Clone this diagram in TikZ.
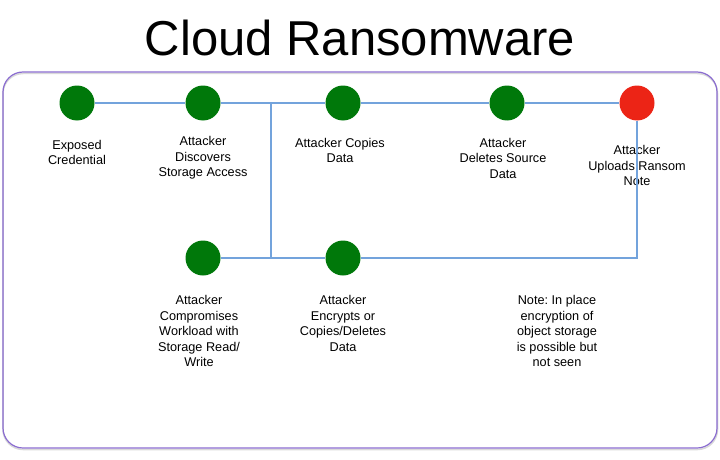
\documentclass[tikz,border=0pt]{standalone}
\usepackage{fontspec}
\setmainfont{Liberation Sans}
\frenchspacing
\definecolor{ngreen}{RGB}{0,120,10}
\definecolor{nred}{RGB}{236,36,22}
\definecolor{lblue}{RGB}{115,163,220}
\definecolor{fpurple}{RGB}{138,108,208}
\begin{document}
\begin{tikzpicture}[x=1pt,y=-1pt,
  dot/.style={circle,fill=ngreen,minimum size=35pt,inner sep=0pt},
  reddot/.style={dot,fill=nred},
  lbl/.style={align=center,inner sep=0pt,font=\fontsize{12.7}{15.5}\selectfont},
  link/.style={draw=lblue,line width=2pt}]
\useasboundingbox (0,0) rectangle (720,460);
\draw[gray!30,line width=1.5pt,rounded corners=20pt] (3,73.5) rectangle (717.5,449.5);
\draw[fpurple,line width=1.2pt,rounded corners=20pt] (3,72) rectangle (717,448);
\node[inner sep=0pt,font=\fontsize{49}{55}\selectfont] (title) at (360,38) {Cloud Ransomware};
% nodes
\node[dot] (exp) at (77,103) {};
\node[dot] (disc) at (203,103) {};
\node[dot] (copy) at (343,103) {};
\node[dot] (del) at (507,103) {};
\node[reddot] (ran) at (637,103) {};
\node[dot] (comp) at (203,258) {};
\node[dot] (enc) at (343,258) {};
\coordinate (j1) at (271,103);
\coordinate (j2) at (271,258);
\coordinate (j3) at (637,258);
% connectors
\draw[link] (exp) -- (disc);
\draw[link] (disc) -- (copy);
\draw[link] (copy) -- (del);
\draw[link] (del) -- (ran);
\draw[link] (j1) -- (j2);
\draw[link] (comp) -- (enc);
% labels
\node[lbl] (texp) at (77,152.5) {Exposed\\Credential};
\node[lbl] (tdisc) at (203,158) {Attacker\\Discovers\\Storage Access};
\node[lbl] (tcopy) at (340,150.5) {Attacker Copies\\Data};
\node[lbl] (tdel) at (503,158) {Attacker\\Deletes Source\\Data};
\node[lbl] (tran) at (637,165.5) {Attacker\\Uploads Ransom\\Note};
\node[lbl] (tcomp) at (199,331) {Attacker\\Compromises\\Workload with\\Storage Read/\\Write};
\node[lbl] (tenc) at (343,323.5) {Attacker\\Encrypts or\\Copies/Deletes\\Data};
\node[lbl] (tnote) at (557,331) {Note: In place\\encryption of\\object storage\\is possible but\\not seen};
\draw[link] (enc) -- (j3) -- (ran);
\end{tikzpicture}
\end{document}
